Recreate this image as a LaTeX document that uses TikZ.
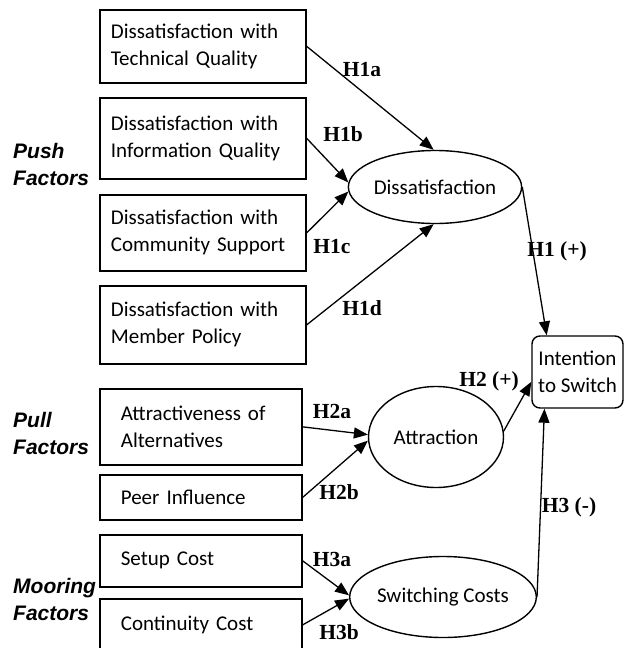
\documentclass[tikz,border=0pt]{standalone}
\usepackage{fontspec}
\setmainfont{Carlito}
\newfontfamily\hypfont{Liberation Serif}
\newfontfamily\groupfont{Liberation Sans}
\usetikzlibrary{arrows.meta,shapes.geometric}

\tikzset{
  factor/.style={draw, line width=1.7pt, anchor=north west, align=left, inner ysep=0pt,
    font=\fontsize{21}{27}\selectfont},
  pushbox/.style={factor, text width=184pt, inner xsep=11pt},
  pullbox/.style={factor, text width=160pt, inner xsep=21pt},
  construct/.style={draw, ellipse, line width=1.4pt, inner sep=0pt, font=\fontsize{21}{27}\selectfont},
  hyp/.style={inner sep=0pt, font=\hypfont\bfseries\fontsize{21.5}{24}\selectfont},
  group/.style={anchor=west, align=left, inner sep=0pt, font=\groupfont\bfseries\itshape\fontsize{21}{27}\selectfont},
  link/.style={->, line width=1.3pt}
}

\begin{document}
\begin{tikzpicture}[x=1pt, y=-1pt, >={Triangle[length=14pt,width=11pt]}]
        \useasboundingbox (0,0) rectangle (624,648);
        \clip (0,0) rectangle (624,648);

        % Factor boxes
        \node[pushbox, minimum height=73pt] (tq) at (99,9) {Dissatisfaction with\\Technical Quality};
        \node[pushbox, minimum height=81pt] (iq) at (99,97) {Dissatisfaction with\\Information Quality};
        \node[pushbox, minimum height=76pt] (cs) at (99,194) {Dissatisfaction with\\Community Support};
        \node[pushbox, minimum height=78pt] (mp) at (99,285) {Dissatisfaction with\\Member Policy};
        \node[pullbox, minimum height=76pt] (aa) at (99,388) {Attractiveness of\\Alternatives};
        \node[pullbox, minimum height=45pt] (pi) at (99,474) {Peer Influence};
        \node[pullbox, minimum height=52pt] (sc) at (99,534) {Setup Cost};
        \node[pullbox, minimum height=52pt] (cc) at (99,598) {Continuity Cost};

        % Group labels
        \node[group] (push) at (13,164) {Push\\Factors};
        \node[group] (pull) at (13,433) {Pull\\Factors};
        \node[group] (mooring) at (13,599) {Mooring\\Factors};

        % Constructs
        \node[construct, minimum width=144pt, minimum height=73pt] (dis) at (435,187) {Dissatisfaction};
        \node[construct, minimum width=135pt, minimum height=101pt] (att) at (436,437) {Attraction};
        \node[construct, minimum width=160pt, minimum height=81pt] (sw) at (443,597) {Switching Costs};
        \node[draw, rounded corners=8pt, line width=1.4pt, minimum width=91pt, minimum height=72pt,
          align=center, inner sep=0pt, font=\fontsize{21}{27}\selectfont] (int) at (577.5,372) {Intention\\to Switch};

        % Paths into the constructs
        \foreach \a/\b in {tq/dis.92, iq/dis.177, cs/dis.183, mp/dis.268, aa/att.178, pi/att.183, sc/sw.179, cc/sw.181} {
            \draw[link] (\a.east) -- (\b);
        }

        % Paths into intention
        \draw[link] (dis.east) -- (int.130);
        \draw[link] (att.5) -- (int.192);
        \draw[link] (sw.east) -- (int.228);

        % Hypotheses
        \foreach \n/\x/\y/\t in {h1a/362/70/H1a, h1b/343/134/H1b, h1c/332/246/H1c, h1d/362/308/H1d,
            h1/557/251/H1 (+), h2/489/381/H2 (+), h2a/332/411/H2a, h2b/339/492/H2b,
            h3/569/507/H3 (-), h3a/332/559/H3a, h3b/339/632/H3b} {
            \node[hyp] (\n) at (\x,\y) {\t};
        }
    \end{tikzpicture}
\end{document}
